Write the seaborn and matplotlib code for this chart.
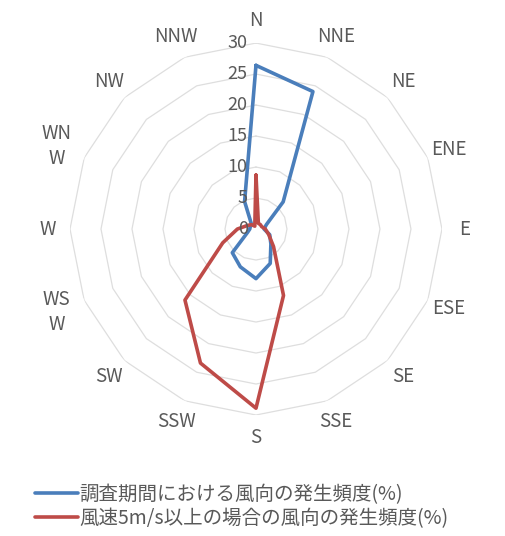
import numpy as np
import pandas as pd
import matplotlib
matplotlib.use("Agg")
import matplotlib.pyplot as plt
import seaborn as sns

# --------------------------------------------
# DATA
# --------------------------------------------
directions = ['N', 'NNE', 'NE', 'ENE', 'E', 'ESE', 'SE', 'SSE',
              'S', 'SSW', 'SW', 'WSW', 'W', 'WNW', 'NW', 'NNW']
dir_labels = ['N', 'NNE', 'NE', 'ENE', 'E', 'ESE', 'SE', 'SSE',
              'S', 'SSW', 'SW', 'WS\nW', 'W', 'WN\nW', 'NW', 'NNW']

# 調査期間における風向の発生頻度(%)
freq_all = [26.4, 24.0, 6.2, 1.8, 1.3, 2.4, 3.4, 6.0,
            8.0, 6.6, 5.4, 1.5, 1.0, 1.0, 1.0, 4.8]
# 風速5m/s以上の場合の風向の発生頻度(%)
freq_strong = [8.7, 1.0, 1.0, 1.0, 1.5, 2.2, 4.0, 11.6,
               28.9, 23.4, 16.2, 5.8, 3.0, 1.5, 1.0, 0.5]

series_names = ['調査期間における風向の発生頻度(%)',
                '風速5m/s以上の場合の風向の発生頻度(%)']
r_ticks = [0, 5, 10, 15, 20, 25, 30]

# --------------------------------------------
# SETTINGS
# --------------------------------------------
sns.set_theme(style="white")
plt.rcParams['font.family'] = ['Noto Sans CJK JP', 'DejaVu Sans']

blue = '#4A7EBB'
red = '#BE4B48'
grid_col = '#DEDEDE'
text_col = '#595959'

# --------------------------------------------
# BUILD LONG TABLE (closed polygons)
# --------------------------------------------
theta = np.linspace(0, 2 * np.pi, len(directions), endpoint=False)
theta_closed = np.append(theta, 2 * np.pi)

rows = []
for name, vals in zip(series_names, [freq_all, freq_strong]):
    for t, v in zip(theta_closed, vals + vals[:1]):
        rows.append({'theta': t, 'value': v, 'series': name})
df = pd.DataFrame(rows)

# --------------------------------------------
# PLOT
# --------------------------------------------
fig = plt.figure(figsize=(5.05, 5.36), dpi=100)
ax = fig.add_axes([0.1386, 0.2257, 0.7366, 0.694], projection='polar')
ax.set_theta_zero_location('N')
ax.set_theta_direction(-1)
ax.set_ylim(0, 30)
ax.grid(False)
ax.spines['polar'].set_visible(False)
ax.set_xticks([])
ax.set_yticks([])

# polygon gridlines
for lvl in r_ticks[1:]:
    ax.plot(theta_closed, [lvl] * len(theta_closed), color=grid_col, lw=0.9, zorder=1)

sns.lineplot(data=df, x='theta', y='value', hue='series', sort=False,
             estimator=None, palette=[blue, red], linewidth=2.6, ax=ax,
             legend=False, zorder=3)
ax.set_xlabel('')
ax.set_ylabel('')

# direction labels
for t, lab in zip(theta, dir_labels):
    r_lab = 33.6
    if lab in ('WN\nW', 'WS\nW'):
        r_lab = 34.8
    ax.text(t, r_lab, lab, ha='center', va='center', fontsize=13.5,
            color=text_col, linespacing=1.25)

# radial labels
for v in r_ticks:
    ax.annotate(str(v), xy=(0, v), xytext=(-6, 0), textcoords='offset points',
                ha='right', va='center', fontsize=13, color=text_col)

# legend
handles = ax.lines[-2:]
fig.legend(handles, series_names, loc='upper left',
           bbox_to_anchor=(0.035, 0.13), frameon=False, fontsize=14,
           handlelength=2.2, handletextpad=0.05, labelspacing=0.15,
           labelcolor=text_col)

fig.savefig('out.png', dpi=100)
